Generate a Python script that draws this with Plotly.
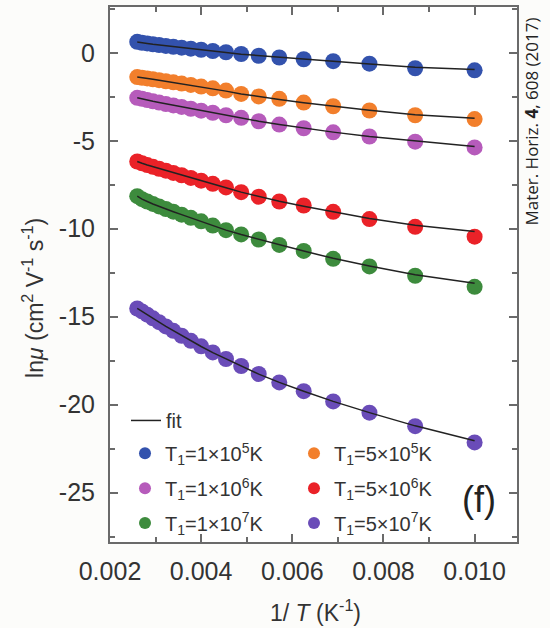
import plotly.graph_objects as go

# Temperatures (K); x = 1/T
T = [100, 115, 130, 145, 160, 175, 190, 205, 220, 235, 250, 265, 280, 295, 310, 325, 340, 355, 370, 385]
inv_T = [1.0 / t for t in T]

series_names = ["T<sub>1</sub>=1×10<sup>5</sup>K", "T<sub>1</sub>=5×10<sup>5</sup>K",
                "T<sub>1</sub>=1×10<sup>6</sup>K", "T<sub>1</sub>=5×10<sup>6</sup>K",
                "T<sub>1</sub>=1×10<sup>7</sup>K", "T<sub>1</sub>=5×10<sup>7</sup>K"]
series_colors = ["#3352ad", "#f27f2c", "#b65bbb", "#ea2228", "#3d8b3d", "#6a4cb8"]
series_legends = ["legend2", "legend2", "legend3", "legend3", "legend4", "legend4"]

ln_mu_1e5 = [-1.00, -0.88, -0.62, -0.48, -0.37, -0.27, -0.17, -0.07, 0.03, 0.10,
             0.17, 0.23, 0.29, 0.34, 0.39, 0.44, 0.48, 0.53, 0.57, 0.62]
ln_mu_5e5 = [-3.77, -3.55, -3.28, -3.04, -2.83, -2.62, -2.48, -2.34, -2.15, -2.02,
             -1.92, -1.83, -1.75, -1.68, -1.62, -1.56, -1.51, -1.46, -1.42, -1.38]
ln_mu_1e6 = [-5.38, -5.05, -4.76, -4.52, -4.29, -4.08, -3.89, -3.70, -3.55, -3.41,
             -3.29, -3.18, -3.08, -2.99, -2.91, -2.83, -2.76, -2.69, -2.62, -2.56]
ln_mu_5e6 = [-10.45, -9.89, -9.45, -9.04, -8.68, -8.45, -8.18, -7.92, -7.65, -7.45,
             -7.27, -7.11, -6.96, -6.83, -6.70, -6.59, -6.48, -6.38, -6.28, -6.18]
ln_mu_1e7 = [-13.30, -12.67, -12.14, -11.71, -11.26, -10.92, -10.61, -10.32, -10.08, -9.82,
             -9.58, -9.38, -9.20, -9.03, -8.88, -8.73, -8.59, -8.45, -8.32, -8.15]
ln_mu_5e7 = [-22.14, -21.22, -20.45, -19.81, -19.23, -18.73, -18.25, -17.80, -17.40, -17.03,
             -16.68, -16.37, -16.08, -15.80, -15.55, -15.31, -15.09, -14.88, -14.70, -14.53]

fit_1e5 = [-0.95, -0.82, -0.64, -0.49, -0.37, -0.27, -0.17, -0.08, 0.01, 0.09,
           0.16, 0.22, 0.28, 0.34, 0.39, 0.44, 0.48, 0.53, 0.57, 0.61]
fit_5e5 = [-3.72, -3.52, -3.27, -3.04, -2.84, -2.65, -2.49, -2.34, -2.18, -2.05,
           -1.94, -1.84, -1.76, -1.68, -1.62, -1.56, -1.51, -1.46, -1.42, -1.38]
fit_1e6 = [-5.33, -5.03, -4.76, -4.51, -4.29, -4.08, -3.89, -3.71, -3.56, -3.42,
           -3.29, -3.18, -3.08, -2.99, -2.91, -2.83, -2.76, -2.69, -2.62, -2.56]
fit_5e6 = [-10.15, -9.80, -9.42, -9.05, -8.72, -8.44, -8.17, -7.92, -7.67, -7.46,
           -7.27, -7.11, -6.96, -6.83, -6.70, -6.59, -6.48, -6.38, -6.28, -6.18]
fit_1e7 = [-13.10, -12.62, -12.12, -11.68, -11.27, -10.92, -10.61, -10.33, -10.08, -9.83,
           -9.60, -9.39, -9.20, -9.03, -8.88, -8.73, -8.59, -8.45, -8.32, -8.15]
fit_5e7 = [-22.05, -21.20, -20.45, -19.81, -19.23, -18.73, -18.26, -17.81, -17.41, -17.04,
           -16.69, -16.37, -16.08, -15.80, -15.55, -15.31, -15.09, -14.88, -14.70, -14.53]

data_series = [ln_mu_1e5, ln_mu_5e5, ln_mu_1e6, ln_mu_5e6, ln_mu_1e7, ln_mu_5e7]
fit_series = [fit_1e5, fit_5e5, fit_1e6, fit_5e6, fit_1e7, fit_5e7]

x_tickvals = [0.002, 0.004, 0.006, 0.008, 0.010]
x_ticktext = ["0.002", "0.004", "0.006", "0.008", "0.010"]
y_tickvals = [0, -5, -10, -15, -20, -25]
y_ticktext = ["0", "-5", "-10", "-15", "-20", "-25"]

FONT = "Liberation Sans, Arial, sans-serif"
TXT = "#333333"
FRAME = "#6a6a6a"

fig = go.Figure()

for name, col, ys, lg in zip(series_names, series_colors, data_series, series_legends):
    fig.add_trace(go.Scatter(
        x=inv_T, y=ys, mode="markers", name=name, legend=lg,
        marker=dict(size=16, color=col, line=dict(width=0)),
    ))

for i, ys in enumerate(fit_series):
    fig.add_trace(go.Scatter(
        x=inv_T, y=ys, mode="lines", name="fit", legend="legend",
        line=dict(color="#222222", width=1.5), showlegend=(i == 0),
    ))

axis_common = dict(
    showline=True, linewidth=2, linecolor=FRAME, mirror="allticks",
    ticks="inside", ticklen=8, tickwidth=1.5, tickcolor=FRAME,
    showgrid=False, zeroline=False,
    tickfont=dict(family=FONT, size=25, color=TXT),
)

fig.update_xaxes(range=[0.002, 0.01093], tickvals=x_tickvals, ticktext=x_ticktext,
                 minor=dict(dtick=0.001, ticks="inside", ticklen=5, tickwidth=1.5, tickcolor=FRAME),
                 ticklabelstandoff=6, **axis_common)
fig.update_yaxes(range=[-27.8, 2.6], tickvals=y_tickvals, ticktext=y_ticktext,
                 minor=dict(dtick=2.5, ticks="inside", ticklen=5, tickwidth=1.5, tickcolor=FRAME),
                 ticklabelstandoff=8, **axis_common)

LEG_FONT = dict(family=FONT, size=20, color=TXT)
row_legend = dict(x=(125 - 110) / 407, xanchor="left", yanchor="middle", orientation="h",
                  entrywidth=124, itemsizing="constant", bgcolor="rgba(0,0,0,0)", font=LEG_FONT)

fig.update_layout(
    width=550, height=628,
    margin=dict(l=110, r=33, t=5, b=86),
    paper_bgcolor="#fcfcfa", plot_bgcolor="#ffffff",
    font=dict(family=FONT, color=TXT),
    legend=dict(x=(126 - 110) / 407, y=(542 - 420) / 537, xanchor="left", yanchor="middle",
                bgcolor="rgba(0,0,0,0)", font=LEG_FONT),
    legend2=dict(y=(542 - 453) / 537, **row_legend),
    legend3=dict(y=(542 - 488) / 537, **row_legend),
    legend4=dict(y=(542 - 523) / 537, **row_legend),
    annotations=[
        dict(text="ln<i>μ</i> (cm<sup>2</sup> V<sup>-1</sup> s<sup>-1</sup>)", xref="paper", yref="paper",
             x=(33 - 110) / 407, y=(542 - 297) / 537, textangle=-90, showarrow=False,
             font=dict(family=FONT, size=23, color=TXT), xanchor="center", yanchor="middle"),
        dict(text="1/ <i>T</i> (K<sup>-1</sup>)", xref="paper", yref="paper",
             x=(315 - 110) / 407, y=(542 - 611) / 537, showarrow=False,
             font=dict(family=FONT, size=23, color=TXT), xanchor="center", yanchor="middle"),
        dict(text="(f)", xref="paper", yref="paper",
             x=(479 - 110) / 407, y=(542 - 499) / 537, showarrow=False,
             font=dict(family=FONT, size=36, color="#222222"), xanchor="center", yanchor="middle"),
        dict(text="Mater. Horiz. <b>4</b>, 608 (2017)", xref="paper", yref="paper",
             x=(532 - 110) / 407, y=(542 - 120) / 537, textangle=-90, showarrow=False,
             font=dict(family="Open Sans, sans-serif", size=17, color="#222222"),
             xanchor="center", yanchor="middle"),
    ],
)

fig.write_html("out.html")
